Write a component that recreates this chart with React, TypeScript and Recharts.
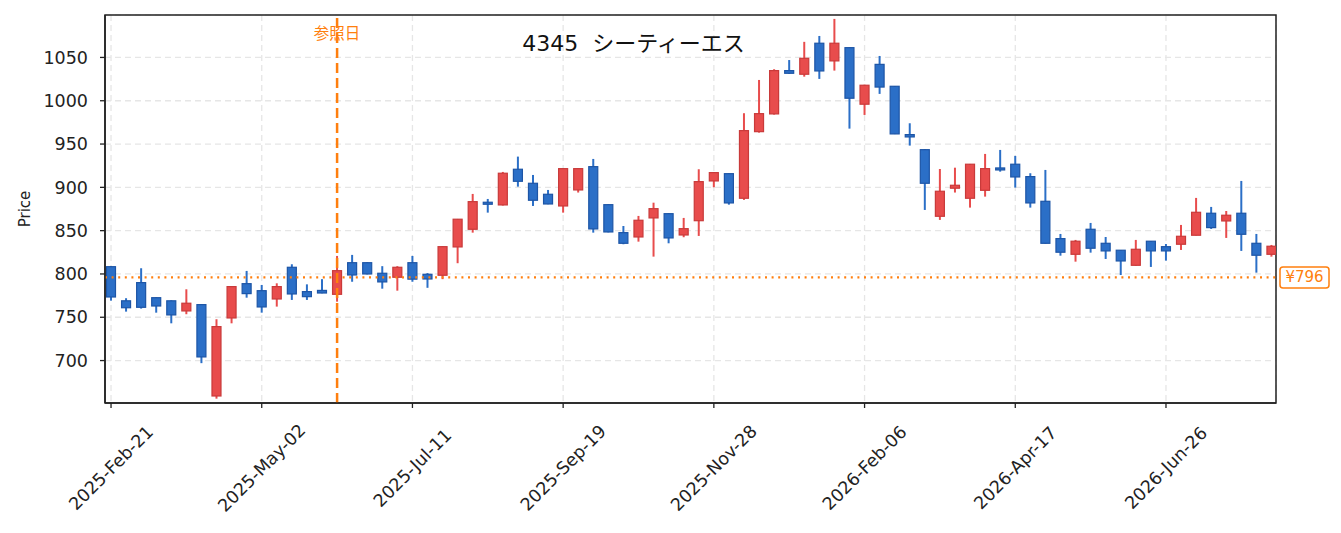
import { ComposedChart, Bar, XAxis, YAxis, CartesianGrid, ReferenceLine, ReferenceArea } from 'recharts';

// weekly candles, oldest first (week ending 2025-Feb-21 ... )
const opens = [
  808.4, 769, 790, 772.6, 769, 757.3, 764.6, 659.1, 749.2, 788.8,
  780.7, 771.1, 807.7, 779.6, 781, 776.5, 813, 813, 800.8, 796.2,
  813, 799.6, 798.5, 831.2, 851.6, 882.8, 879.7, 920.9, 904.7, 892,
  878.5, 897, 923.9, 880, 847.7, 842.7, 864.7, 869.6, 845, 861.5,
  907.4, 915.8, 887.4, 964.3, 984.8, 1034.8, 1030.6, 1066.4, 1046, 1061.3,
  996, 1042, 1016.7, 960.9, 943.5, 866.6, 899, 887.4, 896.6, 922.4,
  926.7, 912.4, 883.9, 840.8, 822.7, 851.6, 835.4, 827.4, 810, 837.8,
  831.5, 834.3, 844.7, 870.1, 861.2, 870.1, 835.4, 822.7,
];
const highs = [
  809, 772, 806.6, 773, 769.5, 782.3, 765, 747.7, 786, 803.5,
  787.3, 789.2, 811.2, 788, 794, 820.8, 822, 813.5, 809, 809,
  820.8, 801, 832, 863.5, 892.4, 886.6, 917.8, 935.5, 914.3, 897,
  922, 922, 932.8, 880.5, 855.4, 867, 882.3, 870, 864.7, 920.9,
  917.5, 916, 985.6, 1024, 1036.4, 1047, 1068, 1074.8, 1094.5, 1061.5,
  1018.5, 1051.7, 1017, 974, 944, 921.2, 922.7, 927, 938.6, 943.2,
  936.3, 916.3, 920.1, 846.2, 839.3, 858.9, 842.7, 827.5, 839.3, 838,
  834.6, 856.6, 887.8, 877.4, 872.7, 907.4, 846.2, 833.5,
];
const lows = [
  769.2, 756.5, 760, 755.3, 743, 753.5, 697, 656, 743, 772.6,
  755.3, 762.3, 770, 770, 777.7, 768, 791, 799.5, 783, 780.7,
  791, 784, 794, 812.4, 847.7, 870.8, 879, 900.8, 878.5, 880.5,
  870.8, 894, 847.7, 848, 834.3, 837.3, 820, 835.4, 842.4, 843.9,
  900.1, 880, 885.5, 963.2, 984, 1031, 1027.8, 1025.2, 1034.8, 967.8,
  983.6, 1007.9, 961.5, 948.2, 873.9, 862.4, 894, 876.6, 889.3, 918.1,
  899.7, 876.6, 835, 821.1, 814.2, 824.6, 817.3, 798.8, 809.5, 808.1,
  815.4, 827.7, 844.5, 852, 841.6, 826.6, 801.5, 820,
];
const closes = [
  773.4, 761, 761.5, 763, 752.7, 766.2, 704.2, 739.2, 785.4, 777.3,
  761.9, 785.4, 776.9, 773.8, 778, 803.8, 798.8, 800, 790.8, 807.7,
  794, 794.2, 831.5, 863.2, 883.5, 880.8, 916.3, 907, 885.1, 880.8,
  921.6, 921.6, 852, 848.5, 835.4, 862, 875.4, 841.6, 852.3, 906.6,
  917, 882, 965.5, 985.1, 1034.8, 1031.7, 1049, 1034.4, 1066.4, 1002.9,
  1017.9, 1015.8, 961.7, 958.2, 904.7, 895.5, 902.4, 926.7, 921.6, 920.4,
  912, 882, 835.4, 825.1, 837.8, 829.7, 826.6, 815, 828.5, 826.6,
  826.6, 843.5, 871.2, 853.5, 867.8, 845.8, 821.6, 832,
];

const tickIdx = [0, 10, 20, 30, 40, 50, 60, 70];
const tickLabels = [
  '2025-Feb-21', '2025-May-02', '2025-Jul-11', '2025-Sep-19',
  '2025-Nov-28', '2026-Feb-06', '2026-Apr-17', '2026-Jun-26',
];
const priceTicks = [700, 750, 800, 850, 900, 950, 1000, 1050];
const refIdx = 15;
const refPrice = 796;

const rows = opens.map((o, i) => ({
  i,
  open: o,
  close: closes[i],
  high: highs[i],
  low: lows[i],
  range: [lows[i], highs[i]],
}));

const FONT = '"DejaVu Sans", "Noto Sans CJK JP", sans-serif';
const ORANGE = '#ff7f0e';

function Candle(props: any) {
  const { x, y, width, height, payload } = props;
  if (x == null || y == null) return null;
  const top = Math.min(y, y + height);
  const h = Math.abs(height);
  const span = payload.high - payload.low || 1;
  const py = (v: number) => top + ((payload.high - v) / span) * h;
  const up = payload.close >= payload.open;
  const fill = up ? '#e84c4c' : '#2b6fc7';
  const edge = up ? '#c93a3a' : '#1d55a6';
  const cx = x + width / 2;
  const bTop = py(Math.max(payload.open, payload.close));
  const bBot = py(Math.min(payload.open, payload.close));
  const bh = Math.max(bBot - bTop, 2);
  return (
    <g>
      <line x1={cx} x2={cx} y1={top} y2={top + h} stroke={fill} strokeWidth={2} />
      <rect x={x} y={bTop} width={width} height={bh} fill={fill} stroke={edge} strokeWidth={1.2} />
    </g>
  );
}

function DateTick(props: any) {
  const { x, y, payload } = props;
  const k = tickIdx.indexOf(payload.value);
  return (
    <text
      transform={`translate(${x},${y + 58}) rotate(-45)`}
      textAnchor="middle"
      dominantBaseline="central"
      fontSize={17.5}
      fontFamily={FONT}
      fill="#222"
    >
      {k >= 0 ? tickLabels[k] : ''}
    </text>
  );
}

export default function App() {
  return (
    <div style={{ position: 'relative', width: 1325, height: 517, fontFamily: FONT }}>
      <ComposedChart
        width={1325}
        height={517}
        data={rows}
        margin={{ top: 7, right: 57, left: 0, bottom: 0 }}
      >
        <CartesianGrid stroke="#e6e6e6" strokeDasharray="6 4" strokeWidth={1.3} />
        <XAxis
          dataKey="i"
          type="number"
          domain={[-0.4, 77.3]}
          ticks={tickIdx}
          allowDataOverflow
          height={122}
          tickSize={5}
          tick={<DateTick />}
          axisLine={{ stroke: '#222', strokeWidth: 1.5 }}
          tickLine={{ stroke: '#222', strokeWidth: 1.3 }}
        />
        <YAxis
          domain={[651, 1099]}
          ticks={priceTicks}
          allowDataOverflow
          width={97}
          tickSize={5}
          tickMargin={12}
          tick={{ fontSize: 17.5, fill: '#222', fontFamily: FONT }}
          axisLine={{ stroke: '#222', strokeWidth: 1.5 }}
          tickLine={{ stroke: '#222', strokeWidth: 1.3 }}
          label={{
            content: (p: any) => {
              const vb = p.viewBox;
              const cy = vb.y + vb.height / 2;
              return (
                <text
                  x={17}
                  y={cy}
                  transform={`rotate(-90, 17, ${cy})`}
                  textAnchor="middle"
                  dominantBaseline="central"
                  fontSize={15}
                  fontFamily={FONT}
                  fill="#222"
                >
                  Price
                </text>
              );
            },
          }}
        />
        <ReferenceArea
          x1={-0.4}
          x2={77.3}
          y1={651}
          y2={1099}
          fill="none"
          stroke="#222"
          strokeWidth={1.5}
          ifOverflow="visible"
        />
        <Bar dataKey="range" barSize={9} shape={<Candle />} isAnimationActive={false} />
        <ReferenceLine
          y={refPrice}
          stroke={ORANGE}
          strokeWidth={2.2}
          strokeDasharray="2 4.6"
          label={{
            content: (p: any) => {
              const vb = p.viewBox;
              const rx = vb.x + vb.width + 4;
              return (
                <g>
                  <rect x={rx} y={vb.y - 10.5} width={49} height={21} rx={3} fill="#fff" stroke={ORANGE} strokeWidth={1.5} />
                  <text
                    x={rx + 24.5}
                    y={vb.y}
                    textAnchor="middle"
                    dominantBaseline="central"
                    fontSize={15}
                    fontFamily={FONT}
                    fill={ORANGE}
                  >
                    ¥796
                  </text>
                </g>
              );
            },
          }}
        />
        <ReferenceLine
          x={refIdx}
          stroke={ORANGE}
          strokeWidth={2.5}
          strokeDasharray="10 5"
          label={{
            content: (p: any) => {
              const vb = p.viewBox;
              return (
                <text
                  x={vb.x}
                  y={vb.y + 19}
                  textAnchor="middle"
                  dominantBaseline="central"
                  fontSize={15.5}
                  fontFamily={FONT}
                  fill={ORANGE}
                >
                  参照日
                </text>
              );
            },
          }}
        />
      </ComposedChart>
      <div
        style={{
          position: 'absolute',
          left: 625.5,
          top: 33,
          transform: 'translate(-50%, -50%)',
          whiteSpace: 'pre',
          fontSize: 22,
          color: '#111',
        }}
      >
        4345  シーティーエス
      </div>
    </div>
  );
}
